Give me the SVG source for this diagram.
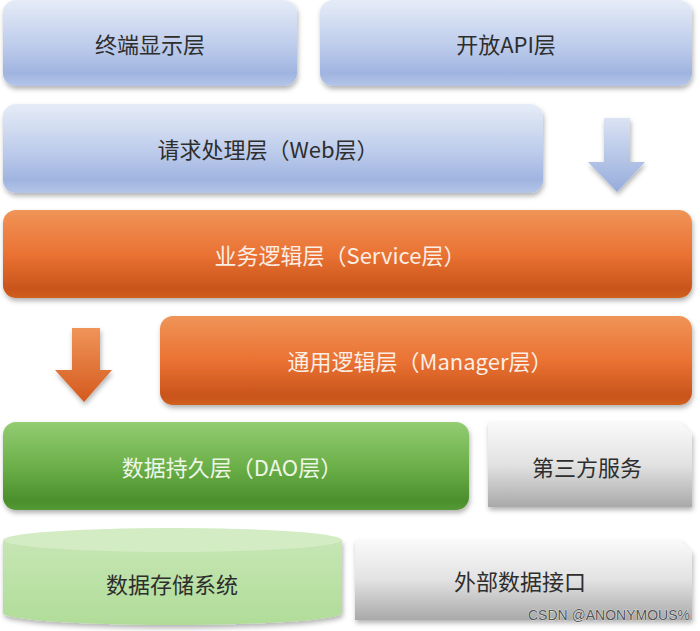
<svg xmlns="http://www.w3.org/2000/svg" width="700" height="631" viewBox="0 0 700 631">
<defs>
<linearGradient id="gBlue" x1="0" y1="0" x2="0" y2="1">
<stop offset="0" stop-color="#e6ecf7"/><stop offset="0.55" stop-color="#bccbeb"/><stop offset="0.85" stop-color="#9fb4e0"/><stop offset="1" stop-color="#b5c5e8"/>
</linearGradient>
<linearGradient id="gOrange" x1="0" y1="0" x2="0" y2="1">
<stop offset="0" stop-color="#f09458"/><stop offset="0.5" stop-color="#ea7233"/><stop offset="0.9" stop-color="#c9541c"/><stop offset="1" stop-color="#d0601f"/>
</linearGradient>
<linearGradient id="gGreen" x1="0" y1="0" x2="0" y2="1">
<stop offset="0" stop-color="#93cc72"/><stop offset="0.5" stop-color="#6cb049"/><stop offset="0.9" stop-color="#4a8f2c"/><stop offset="1" stop-color="#559a34"/>
</linearGradient>
<linearGradient id="gGray" x1="0" y1="0" x2="0" y2="1">
<stop offset="0" stop-color="#fafafa"/><stop offset="0.5" stop-color="#e2e2e2"/><stop offset="1" stop-color="#a9a9a9"/>
</linearGradient>
<linearGradient id="gCyl" x1="0" y1="0" x2="0" y2="1">
<stop offset="0" stop-color="#c6e6b4"/><stop offset="1" stop-color="#b0dc98"/>
</linearGradient>
<linearGradient id="gBlueArrow" x1="0" y1="0" x2="0" y2="1">
<stop offset="0" stop-color="#dbe3f4"/><stop offset="1" stop-color="#95acdc"/>
</linearGradient>
<linearGradient id="gOrangeArrow" x1="0" y1="0" x2="0" y2="1">
<stop offset="0" stop-color="#f09458"/><stop offset="1" stop-color="#d45a1e"/>
</linearGradient>
<filter id="sh" x="-5%" y="-10%" width="110%" height="125%">
<feDropShadow dx="1" dy="3" stdDeviation="2.5" flood-color="#000" flood-opacity="0.3"/>
</filter>
</defs>
<style>
.t{font-family:"Noto Sans CJK SC","Noto Sans",sans-serif;font-size:22px;text-anchor:middle;dominant-baseline:central}
.dk{fill:#2e2e2e}
.lt{fill:#fbeee4}
.lg{fill:#eef6e8}
.wm{font-family:"Liberation Sans","Noto Sans",sans-serif;font-size:14px;fill:#555;stroke:#fff;stroke-width:0.6;paint-order:stroke;text-anchor:end}
</style>
<rect width="700" height="631" fill="#fff"/>
<g id="terminal">
<rect x="3" y="0" width="294" height="86" rx="13" fill="url(#gBlue)" filter="url(#sh)"/>
<text class="t dk" x="150" y="43">终端显示层</text>
</g>
<g id="openapi">
<rect x="320" y="0" width="372" height="86" rx="13" fill="url(#gBlue)" filter="url(#sh)"/>
<text class="t dk" x="506" y="43">开放API层</text>
</g>
<g id="web">
<rect x="3" y="104" width="540" height="89" rx="13" fill="url(#gBlue)" filter="url(#sh)"/>
<text class="t dk" x="268" y="148">请求处理层（Web层）</text>
</g>
<g id="service">
<rect x="3" y="210" width="689" height="88" rx="13" fill="url(#gOrange)" filter="url(#sh)"/>
<text class="t lt" x="340" y="254">业务逻辑层（Service层）</text>
</g>
<g id="manager">
<rect x="160" y="316" width="532" height="89" rx="13" fill="url(#gOrange)" filter="url(#sh)"/>
<text class="t lt" x="420" y="360">通用逻辑层（Manager层）</text>
</g>
<g id="dao">
<rect x="3" y="422" width="466" height="88" rx="13" fill="url(#gGreen)" filter="url(#sh)"/>
<text class="t lg" x="232" y="466">数据持久层（DAO层）</text>
</g>
<g id="thirdparty">
<path d="M488 422 H680 L692 434 V507 H488 Z" fill="url(#gGray)" filter="url(#sh)"/>
<text class="t dk" x="587" y="466">第三方服务</text>
</g>
<g id="storage">
<path d="M3 540 V613 A169.5 12 0 0 0 342 613 V540 Z" fill="url(#gCyl)" filter="url(#sh)"/>
<ellipse cx="172.5" cy="540" rx="169.5" ry="12" fill="#d3ecc4"/>
<text class="t dk" x="172" y="583">数据存储系统</text>
</g>
<g id="external">
<path d="M355 540 H680 L692 552 V620 H355 Z" fill="url(#gGray)" filter="url(#sh)"/>
<text class="t dk" x="520" y="580">外部数据接口</text>
</g>
<g id="connectors">
<path d="M604 118 H630 V162 H645 L617 192 L588 162 H604 Z" fill="url(#gBlueArrow)" filter="url(#sh)"/>
<path d="M72 328 H100 V370 H112 L84 402 L55 370 H72 Z" fill="url(#gOrangeArrow)" filter="url(#sh)"/>
</g>
<text class="wm" x="690" y="620">CSDN @ANONYMOUS%</text>
</svg>
